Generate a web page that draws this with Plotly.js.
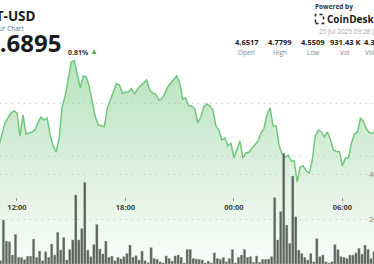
<!DOCTYPE html>
<html>
<head>
<meta charset="utf-8">
<script src="https://cdn.plot.ly/plotly-3.0.1.min.js"></script>
<style>html,body{margin:0;padding:0;background:#fff;}#chart{width:374px;height:264px;}</style>
</head>
<body>
<div id="chart"></div>
<script>
// 10-minute samples starting 24 Jul 2025 11:00
const startTime = Date.UTC(2025, 6, 24, 11, 0);
const stepMinutes = 10;

const price = [
4.6189,4.6396,4.6623,4.6717,4.6811,4.6849,4.6811,4.6377,4.6774,4.6415,
4.6434,4.6453,4.6491,4.6642,4.6736,4.6679,4.6717,4.6396,4.6189,4.6075,
4.6340,4.6943,4.7132,4.7472,4.7774,4.7799,4.7528,4.7283,4.7509,4.7491,
4.7302,4.6981,4.6736,4.6585,4.6575,4.6557,4.6906,4.7057,4.7245,4.7368,
4.7340,4.7179,4.7208,4.7208,4.7274,4.7170,4.7264,4.7321,4.7377,4.7434,
4.7245,4.7189,4.7170,4.7057,4.7075,4.7170,4.7302,4.7377,4.7453,4.7509,
4.7377,4.7075,4.7094,4.6943,4.6943,4.6887,4.6623,4.6736,4.6925,4.6981,
4.6943,4.6868,4.6566,4.6491,4.6302,4.6340,4.6189,4.6245,4.5962,4.6113,
4.6283,4.5962,4.6057,4.6075,4.6151,4.6208,4.6283,4.6434,4.6528,4.6792,
4.6906,4.6566,4.6566,4.6189,4.6038,4.5981,4.6019,4.5906,4.5906,4.5509,
4.5792,4.5811,4.5717,4.5679,4.5925,4.6377,4.6491,4.6453,4.6358,4.6453,
4.6321,4.6113,4.6085,4.6081,4.5811,4.5962,4.5962,4.6245,4.6415,4.6453,
4.6717,4.6642,4.6509,4.6434,4.6434,4.6472
];

const volume = [
1.5,19.6,10.2,9.9,4,13.2,3,3,2,3.5,
3.5,11.1,3,5.8,1.5,5.5,3,8.9,4,14.1,
6.2,11.8,1.8,6.5,10.7,30.7,10.7,15.8,36.3,6.2,
3.3,8.7,17.6,6.7,4.5,10.2,3,3.5,1.5,3,
2.3,3.3,4.7,8.4,3.0,3.7,1.8,5.8,1.5,0.6,
7.3,2.5,2.1,1.0,0.5,3.6,2.5,1.3,3.6,4.0,
3.0,0.5,6.5,6.5,2.5,2.2,2.1,1.8,0.5,1.3,
0.5,5.0,2.5,2.1,3.0,1.0,2.5,6.5,0.5,3.0,
4.0,6.5,3.0,3.3,0.8,3.6,0.8,2.1,2.1,2.2,
3.3,29.5,10.7,23.3,49.2,17.3,9.2,39.1,21.0,6.2,
4.7,3.0,1.8,4.7,1.0,11.3,3.3,4.0,1.0,0.5,
1.0,8.7,6.5,3.3,3.0,2.5,4.0,4.0,5.0,7.0,
4.4,8.4,6.5,2.5,5.5,5.0
];

const timeTickVals = ['2025-07-24 12:00','2025-07-24 18:00','2025-07-25 00:00','2025-07-25 06:00'];
const timeTickText = ['12:00','18:00','00:00','06:00'];
const priceGrid = [4.6, 4.7];
const volGrid = [20, 40];
const volGridText = ['20K', '40K'];

const statValues = ['4.6517','4.7799','4.5509','931.43 K'];
const statLabels = ['Open','High','Low','Vol'];

function fmt(ms){ return new Date(ms).toISOString().slice(0,16).replace('T',' '); }
const times = price.map((_, i) => fmt(startTime + i*stepMinutes*60000));

const W = 374, H = 264;
const px = v => v / W;
const py = v => 1 - v / H;
const FONT = 'Open Sans, Arial, sans-serif';

const traces = [
  {
    type: 'scatter', mode: 'lines', x: times, y: price, xaxis: 'x', yaxis: 'y',
    line: {color: '#74c67f', width: 1.5},
    fill: 'tozeroy',
    fillgradient: {type: 'vertical', start: 4.396, stop: 4.78,
      colorscale: [[0, 'rgba(120,200,130,0.04)'], [1, 'rgba(120,200,130,0.52)']]},
    hoverinfo: 'skip'
  },
  {
    type: 'bar', x: times, y: volume, xaxis: 'x', yaxis: 'y2',
    xperiod: 600000, xperiodalignment: 'middle',
    marker: {color: 'rgba(78,86,78,0.92)', line: {color: 'rgba(190,200,190,0.7)', width: 0.5}},
    hoverinfo: 'skip'
  }
];

const annotations = [];
function txt(text, x, y, size, color, weight, xanchor){
  annotations.push({text: text, x: px(x), y: py(y), xref: 'paper', yref: 'paper',
    xanchor: xanchor || 'center', yanchor: 'middle', showarrow: false,
    font: {family: FONT, size: size, color: color, weight: weight || 400}, borderpad: 0});
}
txt('DOT-USD', 37, 15.5, 13.5, '#1e1e1e', 700, 'right');
txt('24 Hour Chart', 26, 28, 6.5, '#777', 400, 'right');
txt('4.6895', 62, 43, 24, '#1a1a1a', 700, 'right');
txt('0.81%', 67, 52, 7, '#333', 700, 'left');
txt('▲', 94, 51, 8, '#4caf50', 400, 'center');
txt('Powered by', 314, 7, 6.5, '#333', 700, 'left');
txt('CoinDesk Data', 326, 19, 10, '#1a1a1a', 700, 'left');
txt('25 Jul 2025 09:28 (UTC)', 318, 31, 6.5, '#aaa', 400, 'left');
const statCenters = [246.5, 280, 312.5, 345];
statValues.forEach((v, i) => txt(v, statCenters[i], 42, 7.5, '#222', 700, 'center'));
statLabels.forEach((v, i) => txt(v, statCenters[i], 52, 6.5, '#888', 400, 'center'));
txt('4.33 M', 363, 42, 7.5, '#222', 700, 'left');
txt('Vol (USD)', 364, 52, 6.5, '#888', 400, 'left');
volGrid.forEach((v, i) => annotations.push({text: volGridText[i], x: px(368), y: v, xref: 'paper', yref: 'y2',
  xanchor: 'left', yanchor: 'middle', showarrow: false, borderpad: 0,
  font: {family: FONT, size: 7.5, color: '#888'}}));

const layout = {
  width: W, height: H,
  margin: {l: 0, r: 0, t: 0, b: 0, pad: 0},
  paper_bgcolor: '#fff', plot_bgcolor: '#fff',
  showlegend: false, bargap: 0.18,
  xaxis: {type: 'date', range: ['2025-07-24 11:03:36', '2025-07-25 07:44:46'],
    anchor: 'free', position: (H - 197) / H,
    tickvals: timeTickVals, ticktext: timeTickText,
    ticks: 'outside', ticklen: 3, tickcolor: '#999', tickwidth: 1,
    showgrid: false, showline: false, zeroline: false,
    tickfont: {family: FONT, size: 7.5, color: '#444', weight: 700}},
  yaxis: {range: [4.39623, 4.89434], tickvals: priceGrid, showticklabels: false,
    showgrid: true, gridcolor: '#c8c8c8', griddash: '1px,5px', gridwidth: 1,
    zeroline: false, showline: false, ticks: ''},
  yaxis2: {overlaying: 'y', side: 'right', range: [0, 117.33], tickvals: volGrid, showticklabels: false,
    showgrid: true, gridcolor: '#c8c8c8', griddash: '1px,5px', gridwidth: 1,
    zeroline: false, showline: false, ticks: ''},
  shapes: [{type: 'rect', xref: 'paper', yref: 'paper', x0: px(315.5), x1: px(323.5), y0: py(23.5), y1: py(14.5),
    line: {color: '#222', width: 1.5, dash: 'dot'}, fillcolor: 'rgba(0,0,0,0)'}],
  annotations: annotations
};

Plotly.newPlot('chart', traces, layout, {staticPlot: true, displayModeBar: false});
</script>
</body>
</html>
